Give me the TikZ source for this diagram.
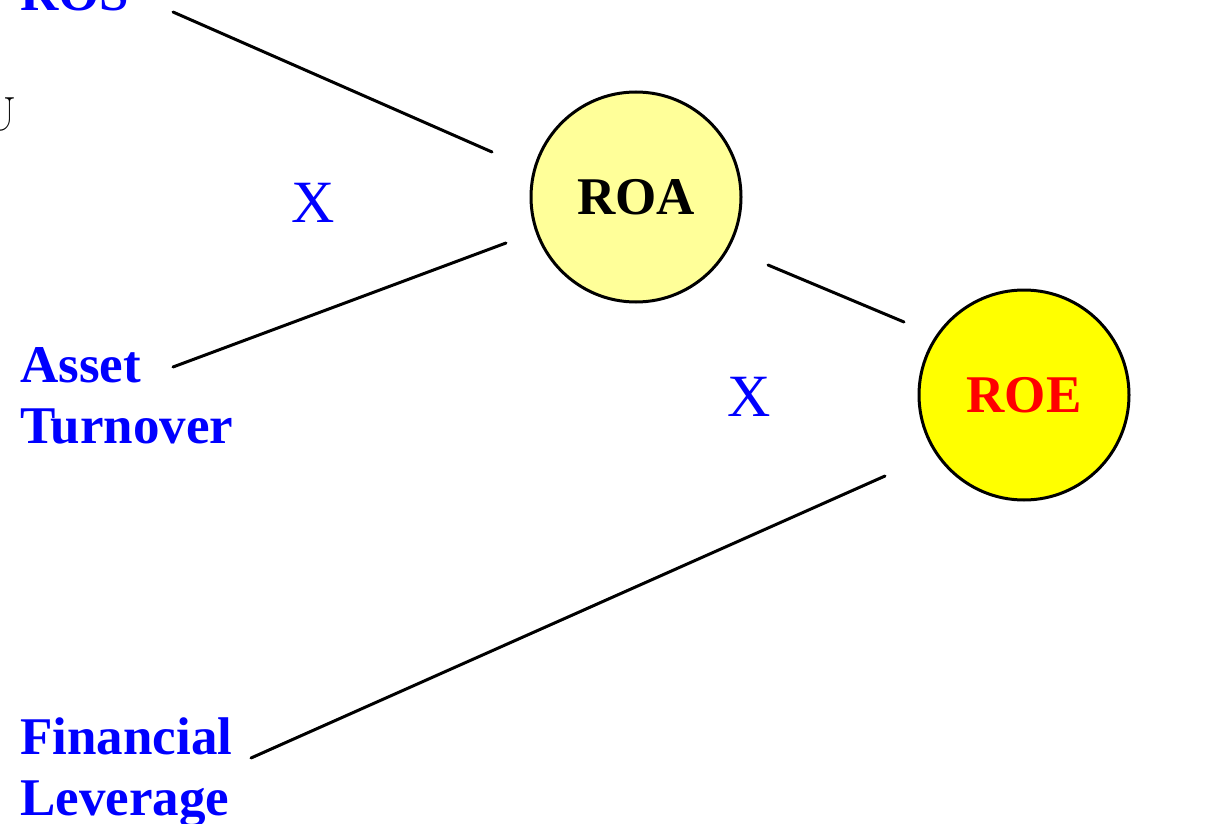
\documentclass[tikz,border=0pt]{standalone}
\usepackage{fontspec}
\setmainfont{Liberation Serif}
\newfontfamily\lmfont{Latin Modern Roman}
\definecolor{lightyel}{HTML}{FFFF99}
\definecolor{pureyel}{HTML}{FFFF00}
\definecolor{pureblue}{HTML}{0000FF}
\definecolor{purered}{HTML}{FF0000}
\begin{document}
\begin{tikzpicture}[x=1pt,y=-1pt,
  lbl/.style={anchor=base west,inner sep=0pt,text=pureblue,font=\fontsize{53}{61}\selectfont\bfseries,align=left},
  times/.style={inner sep=0pt,text=pureblue,font=\fontsize{60}{60}\selectfont},
  ball/.style={circle,draw=black,line width=3pt,minimum size=210pt,inner sep=0pt,font=\fontsize{53}{53}\selectfont\bfseries},
  conn/.style={line width=3pt,line cap=round}]
\useasboundingbox (0,0) rectangle (1205,824);
\node[ball,fill=lightyel,text=black] (roa) at (636,197) {ROA};
\node[ball,fill=pureyel,text=purered] (roe) at (1024,395) {ROE};
\node[lbl] (ros) at (20,11) {ROS};
\node[lbl] (asset) at (20,443) {Asset\\Turnover};
\node[lbl] (fin) at (20,815) {Financial\\Leverage};
\node[anchor=base east,inner sep=0pt,font=\lmfont\fontsize{48}{48}\selectfont] (u) at (17,131) {U};
\node[times] (x1) at (313,203) {X};
\node[times] (x2) at (749,397) {X};
\coordinate (a1) at (173,12);
\coordinate (a2) at (492,152);
\coordinate (b1) at (173,367);
\coordinate (b2) at (506,243);
\coordinate (c1) at (768,265);
\coordinate (c2) at (904,322);
\coordinate (d1) at (251,758);
\coordinate (d2) at (885,476);
\draw[conn] (a1) -- (a2);
\draw[conn] (b1) -- (b2);
\draw[conn] (c1) -- (c2);
\draw[conn] (d1) -- (d2);
\end{tikzpicture}
\end{document}
